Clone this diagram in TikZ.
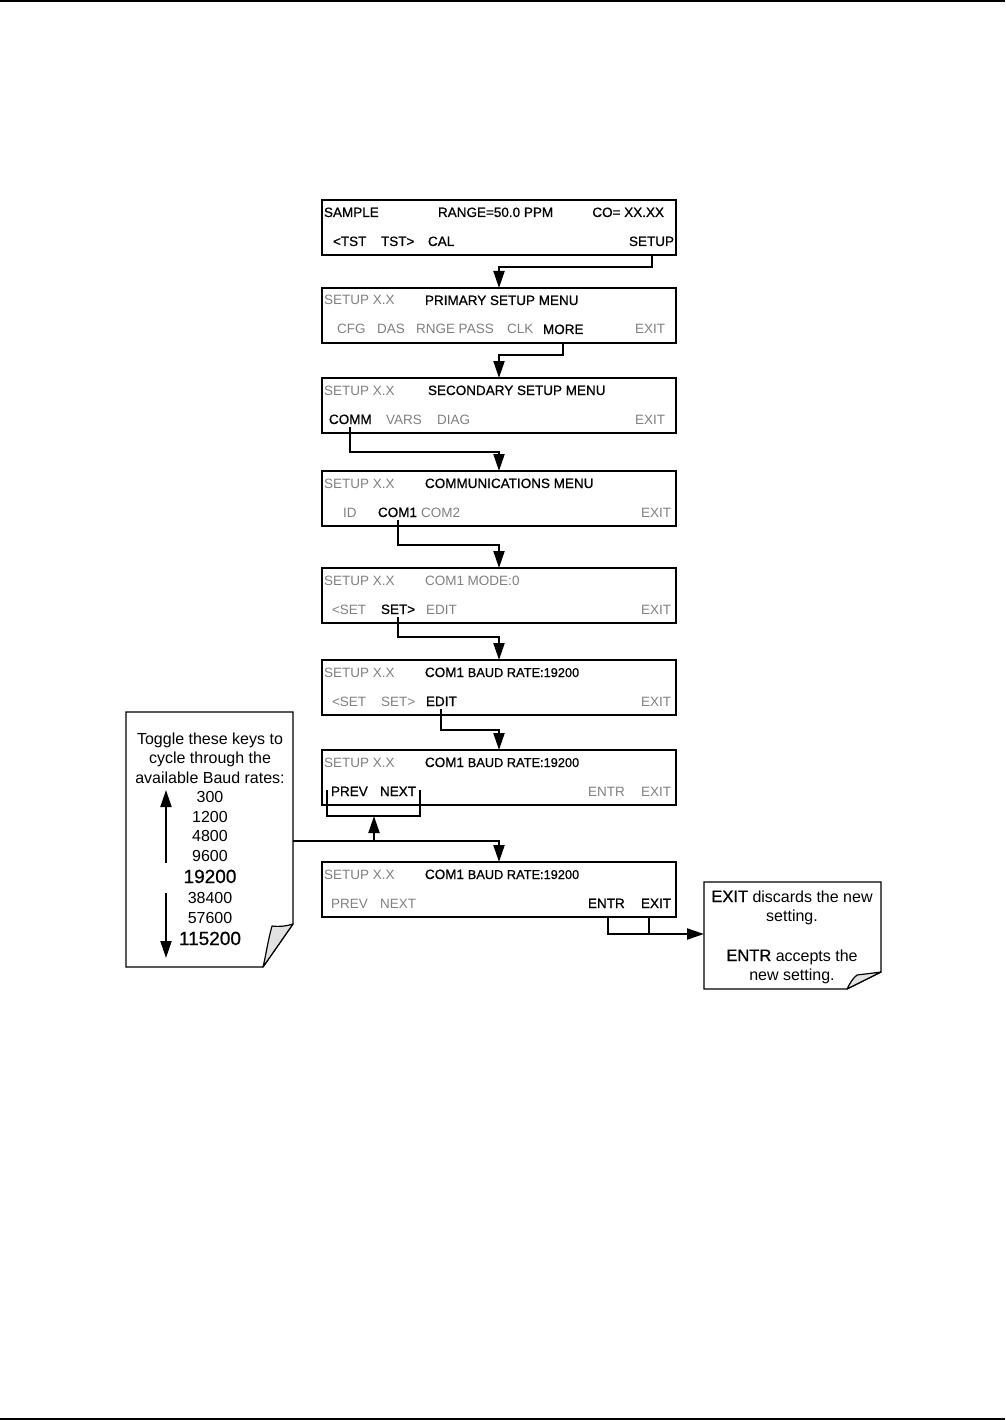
\documentclass[tikz,border=0pt]{standalone}
\usepackage{fontspec}
\setmainfont{Liberation Sans}
\newfontfamily\heavy[FakeBold=0.8]{Liberation Sans}
\usetikzlibrary{arrows.meta,calc}
\definecolor{dim}{RGB}{128,128,128}
\definecolor{foldgray}{RGB}{226,226,226}
\newcommand\scrfont{\fontsize{13.5}{16}\selectfont}
\newcommand\smallscr{\fontsize{12.8}{16}\selectfont}
\newcommand\notefont{\fontsize{16}{19}\selectfont}
\newcommand\bignote{\fontsize{19}{22}\selectfont}
\begin{document}
\begin{tikzpicture}[x=1pt,y=-1pt,
  scr/.style={draw,line width=2pt,minimum width=354pt,minimum height=55pt,inner sep=0pt,outer sep=0pt},
  lbl/.style={anchor=base west,inner sep=0pt,outer sep=0pt},
  on/.style={lbl,text=black,font={\heavy\scrfont}},
  off/.style={lbl,text=dim,font=\scrfont},
  ntxt/.style={anchor=base,inner sep=0pt,outer sep=0pt,font=\notefont},
  conn/.style={line width=2pt,-{Triangle[length=17pt,width=11pt]}},
  ln/.style={line width=2pt},
  notebox/.style={draw,line width=1.2pt,fill=white},
  fold/.style={draw,line width=1.2pt,fill=foldgray,line join=round}]
\useasboundingbox (0,0) rectangle (1005,1420);
% page rules
\draw[line width=1.5pt] (0,1) -- (1005,1);
\draw[line width=1.5pt] (0,1419) -- (1005,1419);

% screens
\node[scr] (b1) at (499,227.5) {};
\node[scr] (b2) at (499,315.5) {};
\node[scr] (b3) at (499,405.5) {};
\node[scr] (b4) at (499,498.5) {};
\node[scr] (b5) at (499,595.5) {};
\node[scr] (b6) at (499,687.5) {};
\node[scr] (b7) at (499,777.5) {};
\node[scr] (b8) at (499,889.5) {};

% box 1
\node[on] (t1a) at (324,217) {SAMPLE};
\node[on] (t1b) at (438,217) {RANGE=50.0 PPM};
\node[on,anchor=base east] (t1c) at (664,217) {CO= XX.XX};
\node[on] (t1d) at (333,246) {<TST};
\node[on] (t1e) at (381,246) {TST>};
\node[on] (t1f) at (428,246) {CAL};
\node[on,anchor=base east] (setup) at (674,246) {SETUP};

% box 2
\node[off] (t2a) at (324,305) {SETUP X.X};
\node[on] (t2b) at (425,305) {PRIMARY SETUP MENU};
\node[off] (t2c) at (337,334) {CFG};
\node[off] (t2d) at (377,334) {DAS};
\node[off] (t2e) at (416,334) {RNGE PASS};
\node[off] (t2f) at (507,334) {CLK};
\node[on] (more) at (543,334) {MORE};
\node[off] (t2h) at (635,334) {EXIT};

% box 3
\node[off] (t3a) at (324,395) {SETUP X.X};
\node[on] (t3b) at (428,395) {SECONDARY SETUP MENU};
\node[on] (comm) at (329,424) {COMM};
\node[off] (t3d) at (386,424) {VARS};
\node[off] (t3e) at (437,424) {DIAG};
\node[off] (t3f) at (635,424) {EXIT};

% box 4
\node[off] (t4a) at (324,488) {SETUP X.X};
\node[on] (t4b) at (425,488) {COMMUNICATIONS MENU};
\node[off] (t4c) at (343,517) {ID};
\node[on] (com1) at (378,517) {COM1};
\node[off] (t4e) at (421,517) {COM2};
\node[off] (t4f) at (641,517) {EXIT};

% box 5
\node[off] (t5a) at (324,585) {SETUP X.X};
\node[off] (t5b) at (425,585) {COM1 MODE:0};
\node[off] (t5c) at (332,614) {<SET};
\node[on] (setn) at (381,614) {SET>};
\node[off] (t5e) at (426,614) {EDIT};
\node[off] (t5f) at (641,614) {EXIT};

% box 6
\node[off] (t6a) at (324,677) {SETUP X.X};
\node[on] (t6b) at (425,677) {COM1 {\smallscr BAUD RATE:19200}};
\node[off] (t6c) at (332,706) {<SET};
\node[off] (t6d) at (381,706) {SET>};
\node[on] (edit) at (426,706) {EDIT};
\node[off] (t6f) at (641,706) {EXIT};

% box 7
\node[off] (t7a) at (324,767) {SETUP X.X};
\node[on] (t7b) at (425,767) {COM1 {\smallscr BAUD RATE:19200}};
\node[on] (prev) at (331,796) {PREV};
\node[on] (next) at (380,796) {NEXT};
\node[off] (t7e) at (588,796) {ENTR};
\node[off] (t7f) at (641,796) {EXIT};

% box 8
\node[off] (t8a) at (324,879) {SETUP X.X};
\node[on] (t8b) at (425,879) {COM1 {\smallscr BAUD RATE:19200}};
\node[off] (t8c) at (331,908) {PREV};
\node[off] (t8d) at (380,908) {NEXT};
\node[on] (entr) at (588,908) {ENTR};
\node[on] (exit8) at (641,908) {EXIT};

% elbow coordinates
\coordinate (k1) at (499,267);
\coordinate (k2) at (499,355);
\coordinate (k3) at (499,452);
\coordinate (k4) at (499,545);
\coordinate (k5) at (499,637);
\coordinate (k6) at (499,730);

% connectors
\draw[conn] (setup.base |- b1.south) |- (k1) -- (b2.north);
\draw[conn] (more.base |- b2.south) |- (k2) -- (b3.north);
\draw[conn] ($(comm.base)+(0,3)$) |- (k3) -- (b4.north);
\draw[conn] ($(com1.base)+(0,3)$) |- (k4) -- (b5.north);
\draw[conn] ($(setn.base)+(0,3)$) |- (k5) -- (b6.north);
\draw[conn] ($(edit.base)+(0,3)$) |- (k6) -- (b7.north);

% PREV / NEXT bracket
\coordinate (brL) at (327,790);
\coordinate (brR) at (420,790);
\coordinate (brB) at (374,816);
\coordinate (j1) at (374,841);
\draw[ln] (brL) |- (brB) -| (brR);
\draw[conn] (j1) -- (brB);

% note 1
\draw[notebox] (126,712) -- (293,712) -- (293,924) -- (263,967) -- (126,967) -- cycle;
\draw[fold] (293,924) -- (263,967) .. controls (266,955) and (268,940) .. (272,926) .. controls (280,927) and (287,926) .. (293,924) -- cycle;
\coordinate (n1e) at (293,841);
\draw[conn] (n1e) -| (b8.north);

\node[ntxt] (nt1) at (210,744) {Toggle these keys to};
\node[ntxt] (nt2) at (210,763) {cycle through the};
\node[ntxt] (nt3) at (210,783) {available Baud rates:};
\node[ntxt] (r1) at (210,802) {300};
\node[ntxt] (r2) at (210,822) {1200};
\node[ntxt] (r3) at (210,841) {4800};
\node[ntxt] (r4) at (210,861) {9600};
\node[ntxt,font={\heavy\bignote}] (r5) at (210,883) {19200};
\node[ntxt] (r6) at (210,903) {38400};
\node[ntxt] (r7) at (210,923) {57600};
\node[ntxt,font={\heavy\bignote}] (r8) at (210,945) {115200};
\coordinate (ua1) at (166,863);
\coordinate (ua2) at (166,790);
\coordinate (da1) at (166,893);
\coordinate (da2) at (166,958);
\draw[conn] (ua1) -- (ua2);
\draw[conn] (da1) -- (da2);

% note 2
\draw[notebox] (704,882) -- (881,882) -- (881,972) -- (847,989) -- (704,989) -- cycle;
\draw[fold] (881,972) -- (847,989) .. controls (850,983) and (853,978) .. (857,975) .. controls (865,974) and (874,973) .. (881,972) -- cycle;
\node[ntxt] (m1) at (792,902) {{\heavy\fontsize{16.5}{19}\selectfont EXIT} discards the new};
\node[ntxt] (m2) at (792,921) {setting.};
\node[ntxt] (m3) at (792,961) {{\heavy\fontsize{16.5}{19}\selectfont ENTR} accepts the};
\node[ntxt] (m4) at (792,980) {new setting.};

% ENTR / EXIT to note 2
\coordinate (e1) at (608,934);
\coordinate (e2) at (649,934);
\coordinate (n2w) at (704,934);
\draw[ln] (e1 |- b8.south) -- (e1) -- (e2);
\draw[ln] (e2 |- b8.south) -- (e2);
\draw[conn] (e2) -- (n2w);
\end{tikzpicture}
\end{document}
